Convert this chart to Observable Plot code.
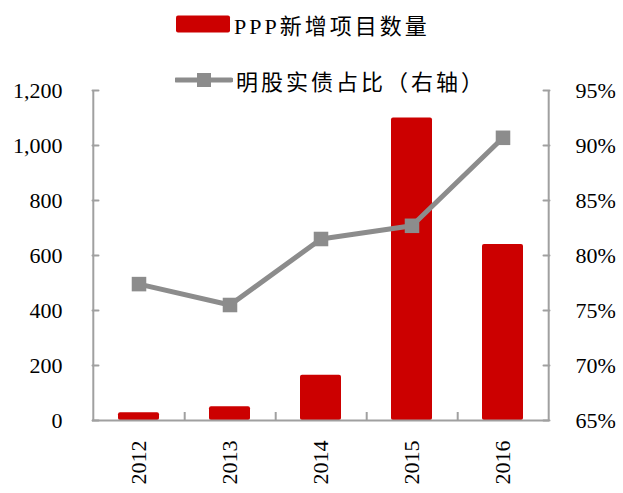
<!DOCTYPE html>
<html>
<head>
<meta charset="utf-8">
<script src="https://cdn.jsdelivr.net/npm/d3@7"></script>
<script src="https://cdn.jsdelivr.net/npm/@observablehq/plot@0.6"></script>
<style>
  html, body { margin: 0; padding: 0; background: #fff; }
  #wrap { position: relative; width: 623px; height: 493px; font-family: "Liberation Serif", "Noto Sans CJK SC", serif; }
  #legend { position: absolute; left: 0; top: 0; width: 623px; pointer-events: none; }
  .row { position: absolute; display: flex; align-items: center; font-size: 22px; letter-spacing: 3px; color: #000; white-space: nowrap; }
  .row svg { display: block; margin-right: 3px; }
</style>
</head>
<body>
<div id="wrap">
  <div id="chart"></div>
  <div id="legend"></div>
</div>
<script>
// ---- data ----
const years = ["2012", "2013", "2014", "2015", "2016"];
const newProjects = [28, 50, 165, 1100, 640];          // PPP新增项目数量 (left axis)
const equityDebtShare = [77.4, 75.5, 81.5, 82.7, 90.7]; // 明股实债占比 % (right axis)
const leftTicks = [0, 200, 400, 600, 800, 1000, 1200];
const rightTicks = [65, 70, 75, 80, 85, 90, 95];
const seriesNames = ["PPP新增项目数量", "明股实债占比（右轴）"];

// ---- layout / styles ----
const W = 623, H = 493;
const mL = 92, mR = 74, mT = 90, mB = 73;
const barColor = "#CC0000";
const lineColor = "#8C8C8C";
const axisColor = "#A0A0A0";
const step = (W - mL - mR) / years.length;
const plotH = H - mT - mB;

// map right-axis percent onto left-axis domain
const leftMax = 1200, pMin = 65, pMax = 95;
const toLeft = p => (p - pMin) / (pMax - pMin) * leftMax;
const pxToY = px => px * leftMax / plotH;

const bars = years.map((y, i) => ({year: y, value: newProjects[i]}));
const line = years.map((y, i) => ({year: y, pct: equityDebtShare[i], v: toLeft(equityDebtShare[i])}));

const chart = Plot.plot({
  width: W, height: H,
  marginLeft: mL, marginRight: mR, marginTop: mT, marginBottom: mB,
  style: {fontFamily: '"Liberation Serif", "Noto Sans CJK SC", serif', fontSize: "22px", color: "#000", background: "#fff", overflow: "visible"},
  x: {domain: years, paddingInner: 0.55, paddingOuter: 0.275, label: null},
  y: {domain: [0, leftMax], label: null},
  marks: [
    Plot.barY(bars, {x: "year", y: "value", fill: barColor, rx: 2}),
    // axis lines
    Plot.ruleY([0], {stroke: axisColor, strokeWidth: 2}),
    Plot.ruleX([years[0]], {x: d => d, y1: 0, y2: leftMax, dx: -step / 2, stroke: axisColor, strokeWidth: 2}),
    Plot.ruleX([years[years.length - 1]], {x: d => d, y1: 0, y2: leftMax, dx: step / 2, stroke: axisColor, strokeWidth: 2}),
    // bottom ticks between categories (pointing up)
    Plot.ruleX(years.slice(0, -1), {x: d => d, y1: 0, y2: pxToY(8), dx: step / 2, stroke: axisColor, strokeWidth: 2}),
    // left axis ticks (pointing in) and labels
    Plot.vector(leftTicks, {y: d => d, frameAnchor: "left", length: 6, rotate: 90, anchor: "start", shape: "spike", r: 0.01, stroke: axisColor, strokeWidth: 2}),
    Plot.axisY({anchor: "left", ticks: leftTicks, tickSize: 0, tickPadding: 30, tickFormat: d3.format(","), label: null}),
    // right axis ticks and labels (percent)
    Plot.vector(rightTicks.map(toLeft), {y: d => d, frameAnchor: "right", length: 6, rotate: -90, anchor: "start", shape: "spike", r: 0.01, stroke: axisColor, strokeWidth: 2}),
    Plot.axisY({anchor: "right", ticks: rightTicks.map(toLeft), tickSize: 0, tickPadding: 26,
      tickFormat: v => Math.round(pMin + v / leftMax * (pMax - pMin)) + "%", label: null}),
    // x axis labels
    Plot.axisX({anchor: "bottom", tickSize: 0, tickPadding: 20, tickRotate: -90, label: null}),
    // line series
    Plot.line(line, {x: "year", y: "v", stroke: lineColor, strokeWidth: 5}),
    Plot.dot(line, {x: "year", y: "v", symbol: "square", r: 8.2, fill: lineColor, stroke: "none"})
  ]
});
document.getElementById("chart").appendChild(chart);

// ---- legend ----
const legend = document.getElementById("legend");
legend.innerHTML = `
  <div class="row" style="left:176px; top:9px; height:30px;">
    <svg width="55" height="18"><rect x="0" y="0.5" width="54" height="17" rx="2" fill="${barColor}"/></svg>
    <span>${seriesNames[0]}</span>
  </div>
  <div class="row" style="left:175px; top:65px; height:30px;">
    <svg width="58" height="16"><line x1="1" y1="8" x2="56" y2="8" stroke="${lineColor}" stroke-width="5" stroke-linecap="round"/><rect x="22" y="1" width="14" height="14" fill="${lineColor}"/></svg>
    <span>${seriesNames[1]}</span>
  </div>`;
</script>
</body>
</html>
